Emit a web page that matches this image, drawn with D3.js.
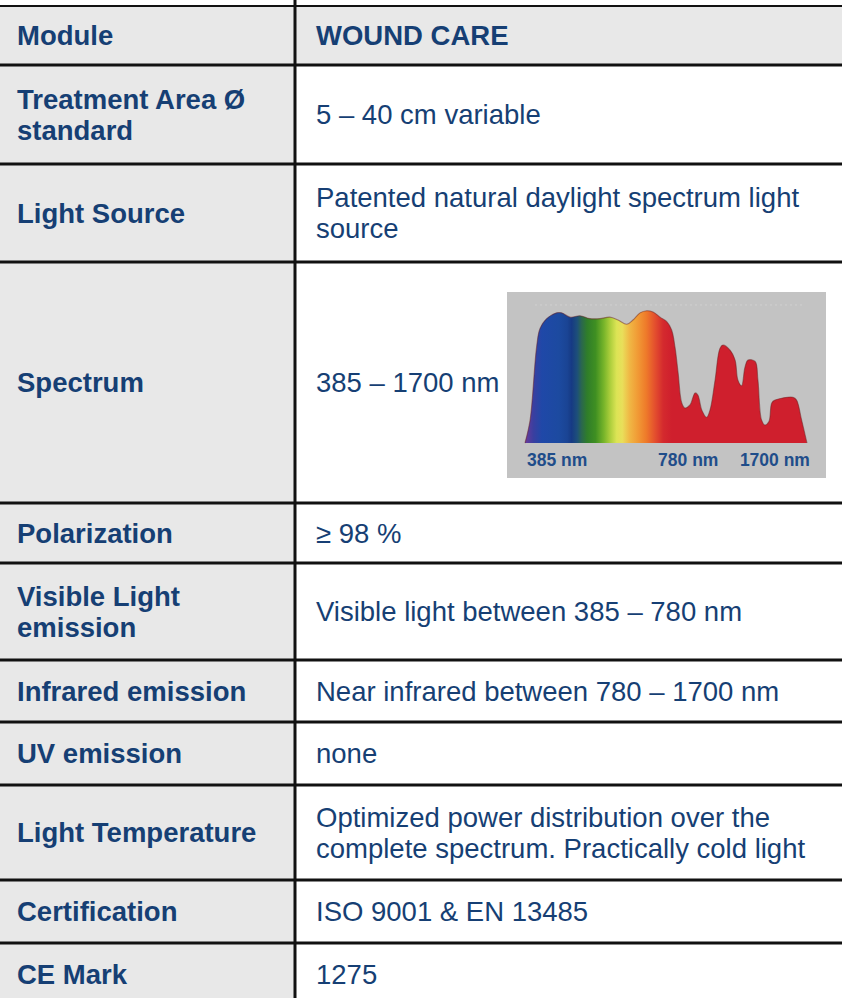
<!DOCTYPE html>
<html>
<head>
<meta charset="utf-8">
<script src="https://cdn.jsdelivr.net/npm/d3@7"></script>
<style>
  html, body { margin: 0; padding: 0; background: #fff; }
  svg { display: block; }
</style>
</head>
<body>
<div id="wrap"></div>
<script>
// table content
const rowLabels = [
  ["Module"],
  ["Treatment Area Ø", "standard"],
  ["Light Source"],
  ["Spectrum"],
  ["Polarization"],
  ["Visible Light", "emission"],
  ["Infrared emission"],
  ["UV emission"],
  ["Light Temperature"],
  ["Certification"],
  ["CE Mark"]
];
const rowValues = [
  ["WOUND CARE"],
  ["5 – 40 cm variable"],
  ["Patented natural daylight spectrum light", "source"],
  ["385 – 1700 nm"],
  ["≥ 98 %"],
  ["Visible light between 385 – 780 nm"],
  ["Near infrared between 780 – 1700 nm"],
  ["none"],
  ["Optimized power distribution over the", "complete spectrum. Practically cold light"],
  ["ISO 9001 & EN 13485"],
  ["1275"]
];

// spectrum curve: relative position along the axis (0-100) and relative intensity (0-100)
const spectrumPos = [0, 1.8, 4.1, 5.3, 7.7, 11.2, 13.0, 16.0, 19.5, 23.0, 26.6, 30.1, 33.0, 36.1, 38.3,
  40.8, 43.2, 45.4, 47.9, 50.2, 52.0, 53.2, 54.3, 55.6, 56.7, 58.5, 60.3, 61.3, 62.7, 64.4, 65.6,
  67.4, 69.1, 70.2, 72.7, 74.5, 75.5, 76.8, 78.0, 79.1, 81.6, 82.6, 83.9, 85.1, 86.5, 87.5, 88.7,
  95.0, 96.3, 98.1, 100];
const spectrumIntensity = [0, 16, 67, 80, 87, 91, 91, 88, 89, 87, 87, 88, 86, 83, 86,
  91, 92.5, 91.6, 88, 85, 79, 67, 49, 28, 24.5, 26.6, 35, 33.6, 23, 18, 23,
  44, 66, 68.5, 65, 58, 44, 40, 53, 58, 57, 44, 16, 12.6, 15, 28, 30,
  32, 30, 16, 0];
const gradPos = [0, 3, 6, 12, 15, 16.5, 18.5, 20, 22, 25, 28, 30, 32.5, 34.5, 37, 40, 43, 46, 49, 52, 100];
const gradColors = ["#6a3a9a", "#3a3fa0", "#1f48a8", "#1c4aa0", "#1a4494", "#163a84", "#1d4f7a", "#2a6650",
  "#2f7d2a", "#3f8f22", "#78b52a", "#a8cc3a", "#dce455", "#e9df5a", "#f0b845", "#f19a35", "#ee7a2a",
  "#e4502e", "#d42a2e", "#cf1f2d", "#cf1f2d"];
const tickLabels = ["385 nm", "780 nm", "1700 nm"];
const tickPos = [0.7, 47.2, 76.2];

// layout
const W = 842, H = 998;
const tableTop = 6;
const rowH = [59, 99, 98, 241, 60, 97, 62, 63, 95, 63, 62];
const colX = 295;
const lineH = 31;
const fontSize = 27.5;
const textColor = "#163f74";

let svg = d3.select('#wrap').append('svg')
  .attr('width', W)
  .attr('height', H);

let rowTops = [tableTop];
rowH.forEach((h, i) => rowTops.push(rowTops[i] + h));

let rows = rowLabels.map((lab, i) => ({
  label: lab, value: rowValues[i], y: rowTops[i], h: rowH[i], header: i === 0
}));

// cell backgrounds
let g = svg.append('g');
g.selectAll('.lbg').data(rows).enter().append('rect')
  .attr('x', 0).attr('y', d => d.y)
  .attr('width', colX).attr('height', d => d.h)
  .attr('fill', '#e8e8e8');
g.selectAll('.rbg').data(rows).enter().append('rect')
  .attr('x', colX).attr('y', d => d.y)
  .attr('width', W - colX).attr('height', d => d.h)
  .attr('fill', d => d.header ? '#e8e8e8' : '#ffffff');

function cellText(sel, x, lines, bold) {
  sel.each(function (d) {
    let n = lines(d).length;
    let cy = d.y + d.h / 2;
    let first = cy - (n - 1) * lineH / 2 + fontSize * 0.35;
    let t = d3.select(this).append('text')
      .attr('x', x)
      .attr('font-family', '"Liberation Sans", Arial, sans-serif')
      .attr('font-size', fontSize)
      .attr('font-weight', bold(d) ? 'bold' : 'normal')
      .attr('fill', textColor);
    t.selectAll('tspan').data(lines(d)).enter().append('tspan')
      .attr('x', x)
      .attr('y', (s, j) => first + j * lineH)
      .text(s => s);
  });
}

let cells = svg.append('g').selectAll('g').data(rows).enter().append('g');
cellText(cells, 17, d => d.label, d => true);
cellText(cells, 316, d => d.value, d => d.header);

// spectrum picture
const box = { x: 507, y: 292, w: 319, h: 186 };
let spec = svg.append('g').attr('transform', `translate(${box.x},${box.y})`);
spec.append('rect').attr('width', box.w).attr('height', box.h).attr('fill', '#c3c3c3');
spec.append('line')
  .attr('x1', 28).attr('x2', 295).attr('y1', 13).attr('y2', 13)
  .attr('stroke', '#d0d0d0').attr('stroke-dasharray', '2,3');

let x = d3.scaleLinear().domain([0, 100]).range([18, 300]);
let y = d3.scaleLinear().domain([0, 100]).range([151, 8]);

let defs = svg.append('defs');
let grad = defs.append('linearGradient')
  .attr('id', 'specGrad')
  .attr('gradientUnits', 'userSpaceOnUse')
  .attr('x1', x(0)).attr('x2', x(100)).attr('y1', 0).attr('y2', 0);
grad.selectAll('stop').data(gradPos).enter().append('stop')
  .attr('offset', d => d + '%')
  .attr('stop-color', (d, i) => gradColors[i]);

let pts = spectrumPos.map((p, i) => [p, spectrumIntensity[i]]);
spec.append('path')
  .datum(pts)
  .attr('fill', 'url(#specGrad)')
  .attr('d', d3.area().x(d => x(d[0])).y0(y(0)).y1(d => y(d[1])).curve(d3.curveCatmullRom));
spec.append('path')
  .datum(pts)
  .attr('fill', 'none')
  .attr('stroke', '#6a2424')
  .attr('stroke-opacity', 0.5)
  .attr('stroke-width', 1.1)
  .attr('d', d3.line().x(d => x(d[0])).y(d => y(d[1])).curve(d3.curveCatmullRom));

spec.selectAll('.tick').data(tickLabels).enter().append('text')
  .attr('x', (d, i) => x(tickPos[i]))
  .attr('y', 174)
  .attr('font-family', '"Liberation Sans", Arial, sans-serif')
  .attr('font-size', 17.5)
  .attr('font-weight', 'bold')
  .attr('fill', '#1f4d8a')
  .text(d => d);

// borders
let borders = svg.append('g');
borders.selectAll('line.h').data(rowTops).enter().append('line')
  .attr('x1', 0).attr('x2', W)
  .attr('y1', d => d).attr('y2', d => d)
  .attr('stroke', '#111')
  .attr('stroke-width', (d, i) => i === 0 ? 2 : 3);
borders.append('line')
  .attr('x1', colX).attr('x2', colX)
  .attr('y1', tableTop - 6).attr('y2', H)
  .attr('stroke', '#111').attr('stroke-width', 3);
</script>
</body>
</html>
